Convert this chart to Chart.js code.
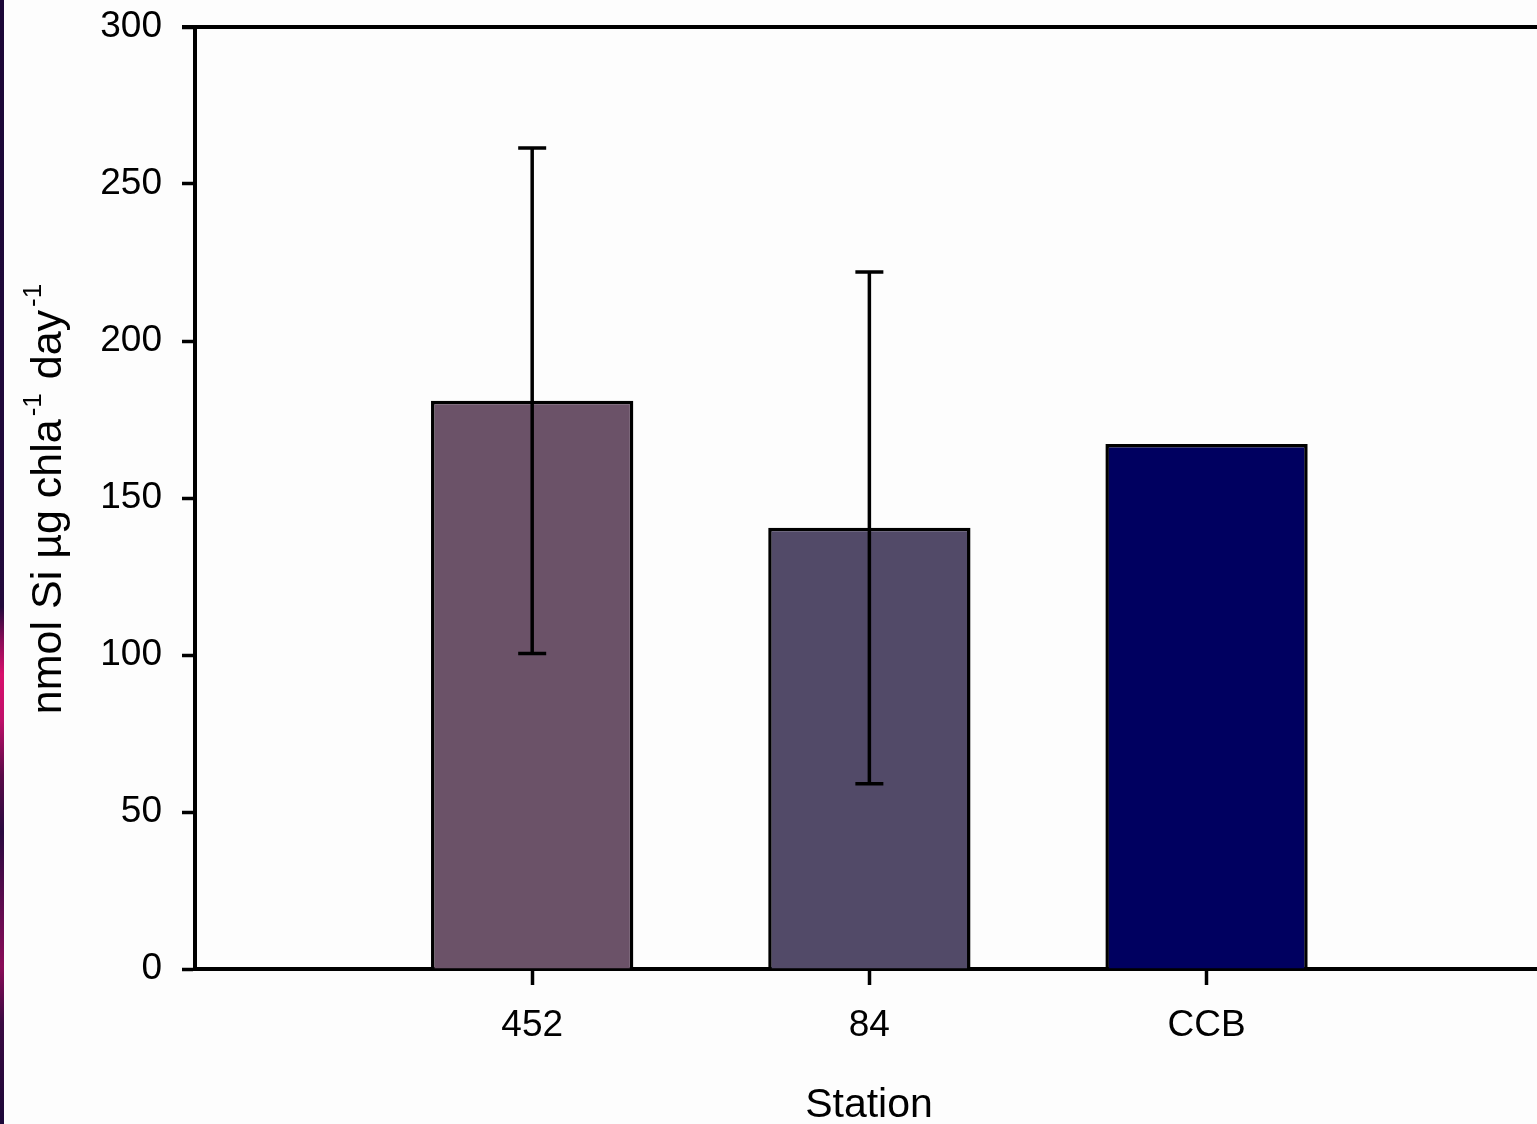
<!DOCTYPE html>
<html>
<head>
<meta charset="utf-8">
<title>Biogenic silica production by station</title>
<script src="https://cdn.jsdelivr.net/npm/chart.js@4.4.1/dist/chart.umd.min.js"></script>
<style>
  html, body { margin: 0; padding: 0; background: #fdfdfd; overflow: hidden; }
  #wrap { position: relative; width: 1537px; height: 1124px; }
  #edge {
    position: absolute; left: 0; top: 0; width: 4px; height: 1124px;
    background: linear-gradient(to bottom,
      #1c0838 0%, #220a3c 54%, #8a0c58 57%, #d8106c 60%, #c0106a 64%,
      #5a0a48 69%, #2a0a40 74%, #6a0c52 82%, #8a0c58 86%, #3a0a42 91%, #1c0838 100%);
  }
  canvas { position: absolute; left: 0; top: 0; }
</style>
</head>
<body>
<div id="wrap">
  <canvas id="chart" width="1537" height="1124"></canvas>
  <div id="edge"></div>
</div>
<script>
// Station means and standard deviations (nmol Si per µg chl a per day)
const stations = ['452', '84', 'CCB'];
const rates = [181, 140.5, 167.2];
const errors = [80.5, 81.5, null];
const yTicks = [0, 50, 100, 150, 200, 250, 300];

const barColors = ['#6b5268', '#524a68', '#000060'];
const FONT = '"Liberation Sans", Arial, Helvetica, sans-serif';

// Error bars with flat caps, drawn through the chart's scales
const errorBars = {
  id: 'errorBars',
  afterDatasetsDraw(chart) {
    const { ctx, scales: { x, y } } = chart;
    ctx.save();
    ctx.strokeStyle = '#000';
    ctx.lineWidth = 3.5;
    rates.forEach((v, i) => {
      const e = errors[i];
      if (e == null) return;
      const px = x.getPixelForValue(i + 1);
      const top = y.getPixelForValue(v + e);
      const bot = y.getPixelForValue(v - e);
      const cap = 14;
      ctx.beginPath();
      ctx.moveTo(px, top); ctx.lineTo(px, bot);
      ctx.moveTo(px - cap, top); ctx.lineTo(px + cap, top);
      ctx.moveTo(px - cap, bot); ctx.lineTo(px + cap, bot);
      ctx.stroke();
    });
    ctx.restore();
  }
};

// Top frame line plus the axis titles (the y title carries superscripts)
const frameAndTitles = {
  id: 'frameAndTitles',
  afterDraw(chart) {
    const { ctx, chartArea: a } = chart;
    ctx.save();
    ctx.strokeStyle = '#000';
    ctx.lineWidth = 4;
    ctx.beginPath();
    ctx.moveTo(a.left - 13, a.top);
    ctx.lineTo(chart.width, a.top);
    ctx.stroke();

    ctx.fillStyle = '#000';
    // x title
    ctx.font = '41px ' + FONT;
    ctx.textAlign = 'center';
    ctx.textBaseline = 'alphabetic';
    ctx.fillText('Station', 869, 1117);

    // y title, rotated, with superscript -1 exponents
    const main = '43px ' + FONT;
    const sup = '26px ' + FONT;
    const parts = [
      { t: 'nmol Si µg chla', f: main, dy: 0, gap: 3 },
      { t: '-1', f: sup, dy: -20, gap: 2 },
      { t: ' day', f: main, dy: 0, gap: 3 },
      { t: '-1', f: sup, dy: -20, gap: 0 }
    ];
    let total = 0;
    parts.forEach(p => { ctx.font = p.f; p.w = ctx.measureText(p.t).width + p.gap; total += p.w; });
    ctx.translate(61, 499);
    ctx.rotate(-Math.PI / 2);
    ctx.textAlign = 'left';
    let xPos = -total / 2;
    parts.forEach(p => {
      ctx.font = p.f;
      ctx.fillText(p.t, xPos, p.dy);
      xPos += p.w;
    });
    ctx.restore();
  }
};

new Chart(document.getElementById('chart'), {
  type: 'bar',
  data: {
    datasets: [{
      data: rates.map((v, i) => ({ x: i + 1, y: v })),
      backgroundColor: barColors,
      borderColor: '#000',
      borderWidth: 3.5,
      borderSkipped: 'bottom',
      barPercentage: 0.6,
      categoryPercentage: 1.0
    }]
  },
  options: {
    responsive: false,
    devicePixelRatio: 1,
    animation: false,
    layout: { padding: { top: 27, right: 0, left: 0, bottom: 0 } },
    plugins: { legend: { display: false }, tooltip: { enabled: false } },
    scales: {
      x: {
        type: 'linear',
        min: 0,
        max: 3.98,
        offset: false,
        afterBuildTicks(scale) {
          scale.ticks = stations.map((_, i) => ({ value: i + 1 }));
        },
        afterFit(scale) {
          scale.height = 155;
          scale.paddingLeft = 0;
          scale.paddingRight = 0;
        },
        ticks: {
          autoSkip: false,
          maxRotation: 0,
          padding: 19,
          color: '#000',
          font: { family: FONT, size: 37 },
          callback: (v) => stations[v - 1] ?? ''
        },
        grid: {
          offset: false,
          drawOnChartArea: false,
          drawTicks: true,
          tickLength: 16,
          tickWidth: 3.5,
          color: '#000'
        },
        border: { display: true, color: '#000', width: 4 }
      },
      y: {
        min: 0,
        max: 300,
        afterBuildTicks(scale) {
          scale.ticks = yTicks.map(v => ({ value: v }));
        },
        afterFit(scale) {
          scale.width = 195;
          scale.paddingTop = 0;
          scale.paddingBottom = 0;
        },
        ticks: {
          padding: 20,
          color: '#000',
          font: { family: FONT, size: 37 }
        },
        grid: {
          drawOnChartArea: false,
          drawTicks: true,
          tickLength: 13,
          tickWidth: 3.5,
          color: '#000'
        },
        border: { display: true, color: '#000', width: 4 }
      }
    }
  },
  plugins: [errorBars, frameAndTitles]
});
</script>
</body>
</html>
